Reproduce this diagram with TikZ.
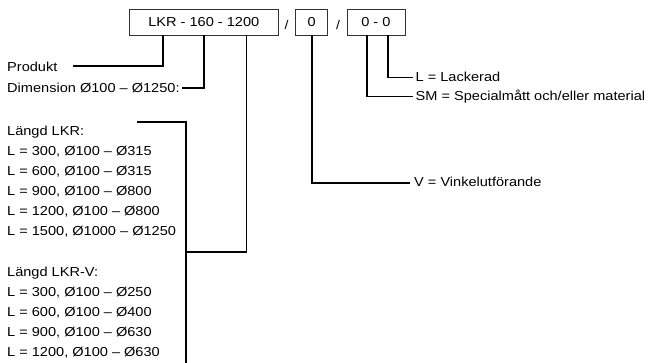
\documentclass[tikz,border=0pt]{standalone}
\usepackage{fontspec}
\setmainfont{Liberation Sans}[FakeStretch=1.12]

\begin{document}
\begin{tikzpicture}[x=1pt,y=-1pt,
    txt/.style={anchor=base west,inner sep=0pt,font=\fontsize{13}{15}\selectfont},
    codebox/.style={draw=black!80,line width=0.7pt,minimum height=26pt,inner sep=0pt,font=\fontsize{13}{15}\selectfont},
    slash/.style={anchor=base,inner sep=0pt,font=\fontsize{12.5}{14}\selectfont},
    lead/.style={line width=1.7pt}
  ]
  \useasboundingbox (0,0) rectangle (655,363);
  % code boxes
  \node[codebox,minimum width=149pt] (code) at (203.8,22) {LKR - 160 - 1200};
  \node[slash] (s1) at (286.5,30) {/};
  \node[codebox,minimum width=32pt] (vink) at (311.7,22) {0};
  \node[slash] (s2) at (338,30) {/};
  \node[codebox,minimum width=58pt] (extra) at (375.9,22) {0 - 0};
  % texts left
  \node[txt] (prod) at (7,72) {Produkt};
  \node[txt] (dim) at (7,92.3) {Dimension Ø100 – Ø1250:};
  \node[txt] (lkr) at (7,135.3) {Längd LKR:};
  \foreach \t [count=\i] in {{L = 300, Ø100 – Ø315},{L = 600, Ø100 – Ø315},{L = 900, Ø100 – Ø800},
      {L = 1200, Ø100 – Ø800},{L = 1500, Ø1000 – Ø1250}}
    \node[txt] (lkr\i) at (7,135.3+20*\i) {\t};
  \node[txt] (lkrv) at (7,276.5) {Längd LKR-V:};
  \foreach \t [count=\i] in {{L = 300, Ø100 – Ø250},{L = 600, Ø100 – Ø400},{L = 900, Ø100 – Ø630},
      {L = 1200, Ø100 – Ø630}}
    \node[txt] (lkrv\i) at (7,276.5+20*\i) {\t};
  % texts right
  \node[txt] (lack) at (415.5,81.6) {L = Lackerad};
  \node[txt] (spec) at (415.5,100.6) {SM = Specialmått och/eller material};
  \node[txt] (vfor) at (414,186.7) {V = Vinkelutförande};
  % leads
  \coordinate (pend) at (72.7,65.7);
  \coordinate (dend) at (181.5,88.3);
  \coordinate (ltop) at (136.7,121.7);
  \coordinate (lbot) at (185.7,363);
  \coordinate (ljoin) at (185.7,251.7);
  \coordinate (vend) at (410,182.7);
  \coordinate (send) at (413.3,96.6);
  \coordinate (lend) at (413.3,77.6);
  \draw[lead] ([xshift=34pt]code.south west) |- (pend);
  \draw[lead] (code.south) |- (dend);
  \draw[lead] ([xshift=-32.3pt]code.south east) |- (ljoin);
  \draw[lead] (ltop) -| (lbot);
  \draw[lead] (vink.south) |- (vend);
  \draw[lead] ([xshift=-9.2pt]extra.south) |- (send);
  \draw[lead] ([xshift=12.4pt]extra.south) |- (lend);
\end{tikzpicture}
\end{document}
